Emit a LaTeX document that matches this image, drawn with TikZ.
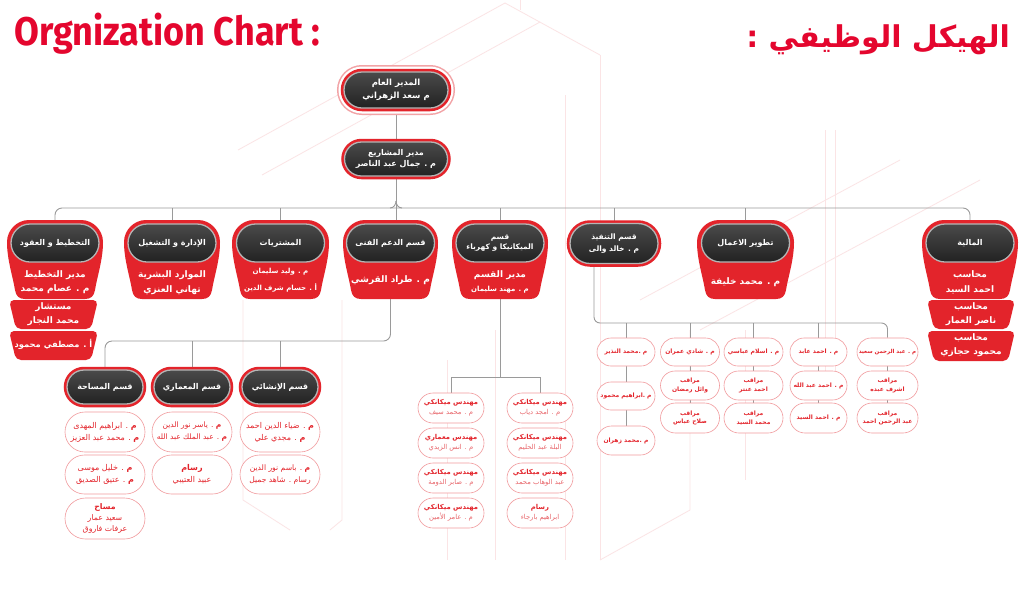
\documentclass[tikz,border=0pt]{standalone}
\usepackage{fontspec}
\usetikzlibrary{shapes.misc,backgrounds}
\TeXXeTstate=1
\newfontfamily\arabicfont[Script=Arabic]{DejaVu Sans}
\newfontfamily\titlefont{Fira Sans}
\newcommand\RL[1]{\beginR #1\endR}
\definecolor{cred}{HTML}{E3242B}
\definecolor{tred}{HTML}{E4062E}
\definecolor{lred}{HTML}{F19A9D}
\definecolor{lred2}{HTML}{E8656A}
\definecolor{pilltop}{HTML}{4A4A4A}
\definecolor{pillbot}{HTML}{222222}
\definecolor{pillrim}{HTML}{B5B5B5}
\definecolor{linegray}{HTML}{9A9A9A}
\definecolor{faintpink}{HTML}{FBE4E5}
\definecolor{pinkring}{HTML}{F2A3A6}
\newcommand\deptcup[4]{%
\fill[cred] (#1,{#3+22}) .. controls (#1,{#3+10}) and ({#1+10},#3) .. ({#1+22},#3)
 -- ({#2-22},#3) .. controls ({#2-10},#3) and (#2,{#3+10}) .. (#2,{#3+22})
 .. controls (#2,{#3+40}) and ({#2-6},{#4-22}) .. ({#2-8},{#4-9})
 .. controls ({#2-9},{#4-3}) and ({#2-12},#4) .. ({#2-18},#4)
 -- ({#1+18},#4) .. controls ({#1+12},#4) and ({#1+9},{#4-3}) .. ({#1+8},{#4-9})
 .. controls ({#1+6},{#4-22}) and (#1,{#3+40}) .. (#1,{#3+22}) -- cycle;}
\newcommand\deptpiece[4]{%
\fill[cred, rounded corners=5pt] (#1,#3) -- (#2,#3) -- ({#2-7},#4) -- ({#1+7},#4) -- cycle;}
\tikzset{
 conn/.style={draw=linegray, line width=0.9pt},
 darkpill/.style={rounded rectangle, top color=pilltop, bottom color=pillbot, draw=pillrim, line width=1.3pt, text=white, align=center, inner sep=0pt, font=\arabicfont\bfseries\fontsize{8}{11}\selectfont},
 ringed/.style={preaction={draw=cred, line width=6.5pt}},
 topring/.style={preaction={draw=pinkring, line width=14pt}, preaction={draw=white, line width=11pt}, preaction={draw=cred, line width=6.5pt}},
 cuptext/.style={text=white, inner sep=0pt, font=\arabicfont\bfseries\fontsize{9}{11}\selectfont},
 smallcup/.style={cuptext, font=\arabicfont\bfseries\fontsize{7}{9}\selectfont},
 child/.style={rounded rectangle, draw=lred, line width=0.6pt, fill=white, text=cred, align=center, inner sep=0pt, minimum width=80pt, minimum height=40pt, font=\arabicfont\fontsize{8}{12}\selectfont},
 mchild/.style={child, minimum width=66pt, minimum height=30pt, font=\arabicfont\fontsize{6.8}{10}\selectfont},
 rchild/.style={child, minimum width=59pt, minimum height=29pt, font=\arabicfont\bfseries\fontsize{6}{8.5}\selectfont},
 subpill/.style={darkpill, ringed, minimum width=76pt, minimum height=34pt},
 deptpill/.style={darkpill, minimum width=88pt, minimum height=38pt},
}
\begin{document}
\begin{tikzpicture}[x=1pt,y=-1pt]
\useasboundingbox (0,0) rectangle (1024,595);

% titles
\node[anchor=base west, inner sep=0pt, text=tred, font=\titlefont\bfseries\fontsize{40}{40}\selectfont] (title) at (14,45) {\scalebox{0.9}[1]{Orgnization Chart :}};
\node[anchor=base east, inner sep=0pt, text=tred, font=\arabicfont\bfseries\fontsize{30}{30}\selectfont] (artitle) at (1010,47) {\RL{الهيكل الوظيفي :}};

% top nodes
\node[darkpill, topring, minimum width=104pt, minimum height=36pt, font=\arabicfont\bfseries\fontsize{8.5}{13}\selectfont] (gm) at (396,90) {\RL{المدير العام}\\\RL{م سعد الزهراني}};
\node[darkpill, ringed, minimum width=103pt, minimum height=34pt] (pm) at (396,159) {\RL{مدير المشاريع}\\\RL{م . جمال عبد الناصر}};

% department cups
\deptcup{7}{103}{220}{299}
\deptpiece{9}{98}{300}{329}
\deptpiece{9}{98}{331}{360}
\deptcup{124}{220}{220}{299}
\deptcup{232}{329}{220}{299}
\deptcup{343}{438}{220}{299}
\deptcup{452}{548}{220}{299}
\deptcup{697}{794}{220}{299}
\deptcup{922}{1018}{220}{299}
\deptpiece{927}{1015}{300}{329}
\deptpiece{927}{1015}{331}{361}

\node[deptpill] (d1) at (55,243) {\RL{التخطيط و العقود}};
\node[deptpill] (d2) at (172,243) {\RL{الإدارة و التشغيل}};
\node[deptpill] (d3) at (280.5,243) {\RL{المشتريات}};
\node[deptpill] (d4) at (390.5,243) {\RL{قسم الدعم الفنى}};
\node[deptpill, font=\arabicfont\bfseries\fontsize{7.5}{10}\selectfont] (d5) at (500,243) {\RL{قسم}\\\RL{الميكانيكا و كهرباء}};
\node[deptpill, ringed, minimum height=40pt, font=\arabicfont\bfseries\fontsize{7.5}{12}\selectfont] (d6) at (614,243.5) {\RL{قسم التنفيذ}\\\RL{م . خالد والى}};
\node[deptpill] (d7) at (745.5,243) {\RL{تطوير الاعمال}};
\node[deptpill] (d8) at (970,243) {\RL{المالية}};

% texts in cups
\node[cuptext] (t1a) at (55,275) {\RL{مدير التخطيط}};
\node[cuptext] (t1b) at (55,289) {\RL{م . عصام محمد}};
\node[cuptext] (t1c) at (53.5,307) {\RL{مستشار}};
\node[cuptext] (t1d) at (53.5,321) {\RL{محمد النجار}};
\node[cuptext, font=\arabicfont\bfseries\fontsize{8.3}{10}\selectfont] (t1e) at (53.5,344) {\RL{أ . مصطفي محمود}};
\node[cuptext] (t2a) at (172,275) {\RL{الموارد البشرية}};
\node[cuptext] (t2b) at (172,290) {\RL{تهاني العنزي}};
\node[smallcup] (t3a) at (280.5,272) {\RL{م . وليد سليمان}};
\node[smallcup] (t3b) at (280.5,288) {\RL{أ . حسام شرف الدين}};
\node[cuptext] (t4a) at (390.5,280) {\RL{م . طراد القرشي}};
\node[cuptext] (t5a) at (500,275) {\RL{مدير القسم}};
\node[smallcup] (t5b) at (500,290) {\RL{م . مهند سليمان}};
\node[cuptext] (t7a) at (745.5,282) {\RL{م . محمد خليفة}};
\node[cuptext] (t8a) at (970,275) {\RL{محاسب}};
\node[cuptext] (t8b) at (970,290) {\RL{احمد السيد}};
\node[cuptext] (t8c) at (971,307) {\RL{محاسب}};
\node[cuptext] (t8d) at (971,321) {\RL{ناصر العمار}};
\node[cuptext] (t8e) at (971,338) {\RL{محاسب}};
\node[cuptext] (t8f) at (971,352) {\RL{محمود حجازي}};

% sub departments (technical support)
\node[subpill] (s1) at (105,387) {\RL{قسم المساحة}};
\node[subpill] (s2) at (192,387) {\RL{قسم المعماري}};
\node[subpill] (s3) at (280,387) {\RL{قسم الإنشائي}};

\node[child] (k11) at (105,432) {\RL{{\bfseries م} . ابراهيم المهدى}\\\RL{{\bfseries م} . محمد عبد العزيز}};
\node[child, minimum height=39pt] (k12) at (105,474.5) {\RL{{\bfseries م} . خليل موسى}\\\RL{{\bfseries م} . عتيق الصديق}};
\node[child, minimum height=41pt, font=\arabicfont\fontsize{7.8}{11}\selectfont] (k13) at (105,518.5) {\RL{{\bfseries مساح}}\\\RL{سعيد عمار}\\\RL{عرفات فاروق}};
\node[child, font=\arabicfont\fontsize{7.5}{12}\selectfont] (k21) at (192,432) {\RL{{\bfseries م} . ياسر نور الدين}\\\RL{{\bfseries م} . عبد الملك عبد الله}};
\node[child, minimum height=39pt] (k22) at (192,474.5) {\RL{{\bfseries رسام}}\\\RL{عبيد العتيبي}};
\node[child] (k31) at (280,432) {\RL{{\bfseries م} . ضياء الدين احمد}\\\RL{{\bfseries م} . مجدي علي}};
\node[child, minimum height=39pt, font=\arabicfont\fontsize{7.6}{12}\selectfont] (k32) at (280,474.5) {\RL{{\bfseries م} . باسم نور الدين}\\\RL{رسام . شاهد جميل}};

% mechanical section
\node[mchild] (m11) at (451,408) {\bfseries\RL{مهندس ميكانكي}\\\color{lred2}\RL{م . محمد سيف}};
\node[mchild] (m12) at (451,443) {\bfseries\RL{مهندس معماري}\\\color{lred2}\RL{م . انس الزيدي}};
\node[mchild] (m13) at (451,478) {\bfseries\RL{مهندس ميكانكي}\\\color{lred2}\RL{م . صابر الدومة}};
\node[mchild] (m14) at (451,513) {\bfseries\RL{مهندس ميكانكي}\\\color{lred2}\RL{م . عامر الأمين}};
\node[mchild] (m21) at (540,408) {\bfseries\RL{مهندس ميكانكي}\\\color{lred2}\RL{م . امجد دياب}};
\node[mchild] (m22) at (540,443) {\bfseries\RL{مهندس ميكانكي}\\\color{lred2}\RL{البلة عبد الحليم}};
\node[mchild] (m23) at (540,478) {\bfseries\RL{مهندس ميكانكي}\\\color{lred2}\RL{عبد الوهاب محمد}};
\node[mchild] (m24) at (540,513) {\bfseries\RL{رسام}\\\color{lred2}\RL{ابراهيم بارجاء}};

% execution section
\node[rchild, minimum width=58pt, minimum height=28pt] (r1a) at (626,352) {\RL{م .محمد النذير}};
\node[rchild, minimum width=58pt, minimum height=28pt] (r1b) at (626,396) {\RL{م .ابراهيم محمود}};
\node[rchild, minimum width=58pt, minimum height=29pt] (r1c) at (626,440.5) {\RL{م .محمد زهران}};
\node[rchild, minimum height=28pt] (r2a) at (690,352) {\RL{م . شادي عمران}};
\node[rchild] (r2b) at (690,385.5) {\RL{مراقب}\\\RL{وائل رمضان}};
\node[rchild, minimum height=30pt] (r2c) at (690,418) {\RL{مراقب}\\\RL{صلاح عباس}};
\node[rchild, minimum height=28pt] (r3a) at (753.5,352) {\RL{م . اسلام عباسي}};
\node[rchild] (r3b) at (753.5,385.5) {\RL{مراقب}\\\RL{احمد عنتر}};
\node[rchild, minimum height=30pt] (r3c) at (753.5,418) {\RL{مراقب}\\\RL{محمد السيد}};
\node[rchild, minimum width=57pt, minimum height=28pt] (r4a) at (818.5,352) {\RL{م . احمد عابد}};
\node[rchild, minimum width=57pt] (r4b) at (818.5,385.5) {\RL{م . احمد عبد الله}};
\node[rchild, minimum width=57pt, minimum height=30pt] (r4c) at (818.5,418) {\RL{م . احمد السيد}};
\node[rchild, minimum width=61pt, minimum height=28pt, font=\arabicfont\bfseries\fontsize{5.5}{8}\selectfont] (r5a) at (887.5,352) {\RL{م . عبد الرحمن سعيد}};
\node[rchild, minimum width=61pt] (r5b) at (887.5,385.5) {\RL{مراقب}\\\RL{اشرف عبده}};
\node[rchild, minimum width=61pt, minimum height=30pt] (r5c) at (887.5,418) {\RL{مراقب}\\\RL{عبد الرحمن احمد}};

\coordinate (busy) at (0,208);
\coordinate (sby) at (0,341);
\coordinate (mby) at (0,377);
\coordinate (rby) at (0,323);
\coordinate (d6drop) at (594,264);

\begin{pgfonlayer}{background}
\fill[white] (0,0) rectangle (1024,595);
% faint decorative lines
\begin{scope}[draw=faintpink, line width=0.8pt]
\draw (238,150) -- (505,3);
\draw (262,175) -- (540,22);
\draw (505,3) -- (600,55);
\draw (520,0) -- (520,10);
\draw (600,55) -- (600,560);
\draw (565,95) -- (565,560);
\draw (243,300) -- (243,500) -- (290,530);
\draw (342,300) -- (342,520) -- (330,530);
\draw (447,360) -- (447,560);
\draw (495,330) -- (495,560);
\draw (640,300) -- (900,160);
\draw (700,330) -- (980,180);
\draw (825,130) -- (825,380);
\draw (835,130) -- (835,380);
\draw (745,330) -- (745,480);
\draw (600,560) -- (690,510) -- (690,330);
\end{scope}
% connectors
\draw[conn] (gm.south) -- (pm.north);
\draw[conn] (pm.south) -- (pm.south |- d4.north);
\draw[conn] ([yshift=7pt]pm.south |- busy) to[out=-90,in=0] ([xshift=-6pt]pm.south |- busy);
\draw[conn] ([yshift=7pt]pm.south |- busy) to[out=-90,in=180] ([xshift=6pt]pm.south |- busy);
\draw[conn, rounded corners=7pt] (d1.north) |- (busy -| d8.north) -- (d8.north);
\foreach \n in {d2,d3,d5,d6,d7} \draw[conn] (\n.north) -- (\n.north |- busy);
\draw[conn, rounded corners=7pt] (d4.south) |- (sby -| s1.north) -- (s1.north);
\draw[conn] (s2.north) -- (s2.north |- sby);
\draw[conn] (s3.north) -- (s3.north |- sby);
\draw[conn] (d5.south) -- (d5.south |- mby);
\draw[conn] (m11.north) -- (m11.north |- mby) -- (m21.north |- mby) -- (m21.north);
\draw[conn, rounded corners=6pt] (d6drop) |- (rby -| r5a.north) -- (r5a.north);
\foreach \n in {r1a,r2a,r3a,r4a} \draw[conn] (\n.north) -- (\n.north |- rby);
\draw[conn] (r1a.south) -- (r1b.north);
\draw[conn] (r1b.south) -- (r1c.north);
\foreach \c in {r2,r3,r4,r5} {
 \draw[conn] (\c a.south) -- (\c b.north);
 \draw[conn] (\c b.south) -- (\c c.north);
}
\end{pgfonlayer}
\end{tikzpicture}
\end{document}
